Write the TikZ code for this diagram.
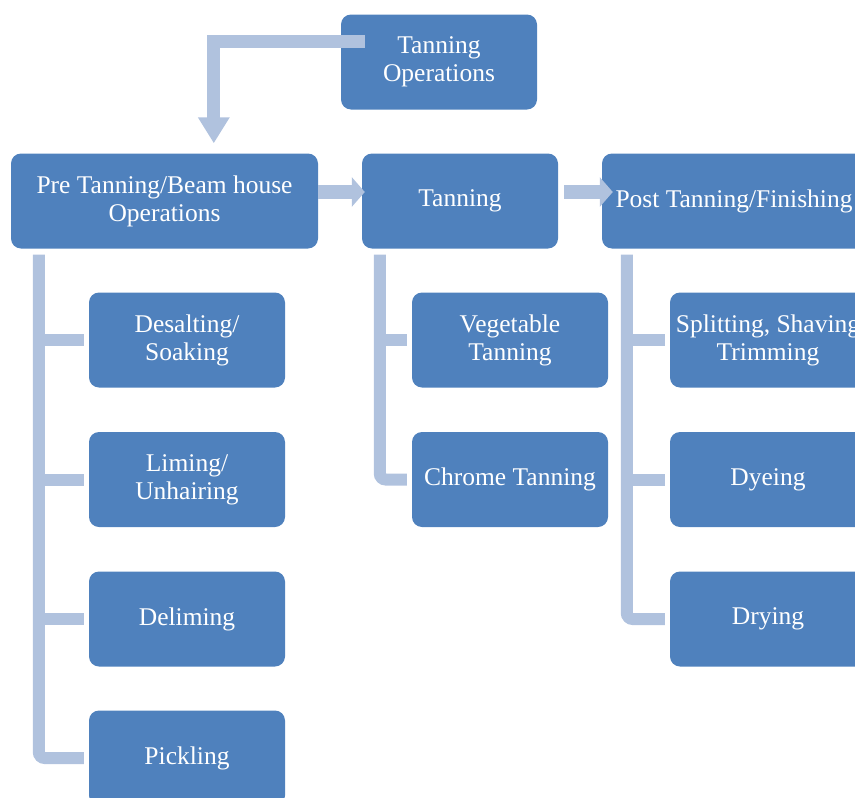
\documentclass[tikz,border=0pt]{standalone}
\usepackage{fontspec}
\setmainfont{Liberation Serif}
\usetikzlibrary{calc,arrows.meta}
\definecolor{boxblue}{HTML}{4F81BD}
\definecolor{barblue}{HTML}{B0C2DE}
\tikzset{
  stepbox/.style={rounded corners=10pt, fill=boxblue, text=white, align=center,
    inner sep=0pt, minimum width=196pt, minimum height=95pt,
    font=\fontsize{25.5pt}{28pt}\selectfont},
  bar/.style={draw=barblue, line width=12pt, rounded corners=6pt},
  flow/.style={draw=barblue, line width=14pt,
    -{Triangle[width=29pt,length=13pt,fill=barblue]}},
}
\begin{document}
\begin{tikzpicture}[x=1pt,y=-1pt]
\useasboundingbox (0,0) rectangle (855,798);
\clip (0,0) rectangle (855,798);

% main row
\node[stepbox] (ops) at (439,62) {Tanning\\Operations};
\node[stepbox, minimum width=307pt] (pre) at (164.5,201) {Pre Tanning/Beam house\\Operations};
\node[stepbox] (tan) at (460,201) {Tanning};
\node[stepbox, minimum width=264pt] (post) at (734,201) {Post Tanning/Finishing};

% pre tanning steps
\node[stepbox] (desalt) at (187,340) {Desalting/\\Soaking};
\node[stepbox] (lime) at (187,479.5) {Liming/\\Unhairing};
\node[stepbox] (delime) at (187,619) {Deliming};
\node[stepbox] (pickle) at (187,758) {Pickling};

% tanning steps
\node[stepbox] (veg) at (510,340) {Vegetable\\Tanning};
\node[stepbox] (chrome) at (510,479.5) {Chrome Tanning};

% post tanning steps
\node[stepbox] (split) at (768,340) {Splitting, Shaving\\Trimming};
\node[stepbox] (dye) at (768,479.5) {Dyeing};
\node[stepbox] (dry) at (768,619) {Drying};

% trunks under each stage
\coordinate (preT) at ($(pre.south west)+(28,6)$);
\coordinate (tanT) at ($(tan.south west)+(18,6)$);
\coordinate (postT) at ($(post.south west)+(25,6)$);

\draw[bar] (preT) |- ([xshift=-5pt]pickle.west);
\foreach \n in {desalt,lime,delime}
  \draw[bar, rounded corners=0pt] (preT |- \n.west) -- ([xshift=-5pt]\n.west);

\draw[bar] (tanT) |- ([xshift=-5pt]chrome.west);
\draw[bar, rounded corners=0pt] (tanT |- veg.west) -- ([xshift=-5pt]veg.west);

\draw[bar] (postT) |- ([xshift=-5pt]dry.west);
\foreach \n in {split,dye}
  \draw[bar, rounded corners=0pt] (postT |- \n.west) -- ([xshift=-5pt]\n.west);

% flow arrows between stages
\draw[flow] ($(pre.east)+(0,-9)$) -- ($(tan.west)+(3,-9)$);
\draw[flow] ($(tan.east)+(6,-9)$) -- ($(post.west)+(11,-9)$);

% arrow from the top box down to the first stage
\coordinate (topStart) at ($(ops.west)+(24,-20.5)$);
\coordinate (topTip) at ($(pre.north west)+(203,-10)$);
\draw[draw=barblue, line width=13pt, line join=miter,
  -{Triangle[width=30pt,length=26pt,fill=barblue]}]
  (topStart) -| (topTip);
\end{tikzpicture}
\end{document}
